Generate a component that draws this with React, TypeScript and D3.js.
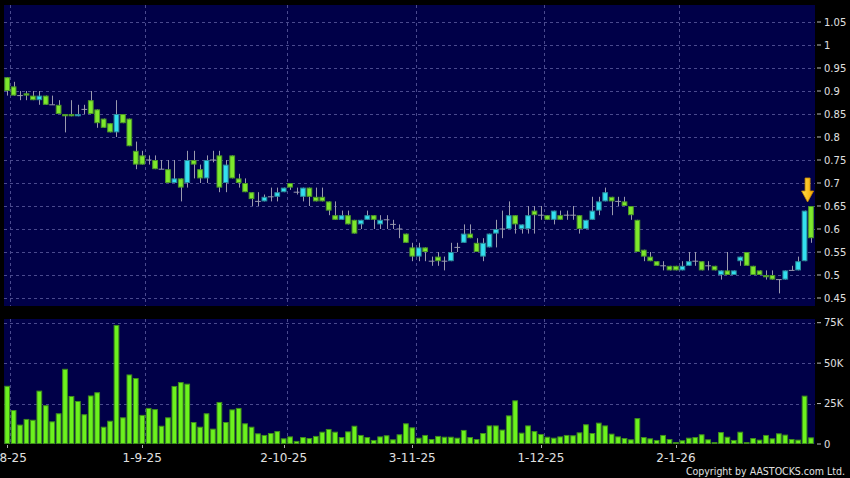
import * as d3 from "d3";

// daily candles, 1-8-25 .. 2-2-26 (HKD)
const opens = [
  0.93, 0.91, 0.89, 0.895, 0.89, 0.88, 0.89, 0.87, 0.87, 0.85,
  0.85, 0.845, 0.86, 0.88, 0.86, 0.84, 0.83, 0.81, 0.85, 0.84,
  0.77, 0.76, 0.75, 0.75, 0.73, 0.73, 0.7, 0.71, 0.7, 0.75,
  0.73, 0.71, 0.75, 0.76, 0.7, 0.76, 0.71, 0.7, 0.68, 0.66,
  0.66, 0.67, 0.67, 0.68, 0.7, 0.68, 0.67, 0.69, 0.67, 0.67,
  0.66, 0.63, 0.62, 0.63, 0.62, 0.61, 0.62, 0.63, 0.61, 0.62,
  0.61, 0.6, 0.59, 0.56, 0.54, 0.56, 0.53, 0.54, 0.53, 0.53,
  0.56, 0.57, 0.59, 0.57, 0.54, 0.56, 0.59, 0.6, 0.6, 0.63,
  0.6, 0.6, 0.64, 0.63, 0.63, 0.62, 0.63, 0.63, 0.63, 0.63,
  0.6, 0.62, 0.64, 0.66, 0.67, 0.66, 0.66, 0.65, 0.62, 0.555,
  0.54, 0.53, 0.52, 0.52, 0.52, 0.51, 0.52, 0.53, 0.53, 0.52,
  0.52, 0.5, 0.51, 0.5, 0.53, 0.55, 0.52, 0.51, 0.5, 0.5,
  0.49, 0.49, 0.51, 0.51, 0.53, 0.65,
];
const highs = [
  0.93, 0.92, 0.9, 0.9, 0.9, 0.9, 0.89, 0.89, 0.88, 0.85,
  0.88, 0.87, 0.87, 0.9, 0.86, 0.84, 0.83, 0.88, 0.85, 0.84,
  0.79, 0.77, 0.76, 0.76, 0.75, 0.75, 0.75, 0.71, 0.77, 0.77,
  0.74, 0.76, 0.77, 0.77, 0.75, 0.76, 0.72, 0.71, 0.68, 0.68,
  0.675, 0.69, 0.69, 0.69, 0.7, 0.69, 0.69, 0.69, 0.69, 0.69,
  0.66, 0.66, 0.64, 0.64, 0.62, 0.62, 0.64, 0.63, 0.63, 0.63,
  0.62, 0.61, 0.59, 0.57, 0.57, 0.56, 0.54, 0.55, 0.54, 0.57,
  0.57, 0.61, 0.61, 0.58, 0.58, 0.59, 0.62, 0.64, 0.66, 0.63,
  0.61, 0.65, 0.65, 0.65, 0.63, 0.64, 0.64, 0.64, 0.65, 0.63,
  0.62, 0.67, 0.67, 0.69, 0.67, 0.67, 0.67, 0.65, 0.62, 0.555,
  0.55, 0.53, 0.53, 0.52, 0.52, 0.53, 0.55, 0.55, 0.53, 0.53,
  0.52, 0.51, 0.55, 0.51, 0.54, 0.55, 0.52, 0.51, 0.51, 0.51,
  0.49, 0.51, 0.52, 0.54, 0.64, 0.65,
];
const lows = [
  0.89, 0.89, 0.88, 0.88, 0.88, 0.87, 0.87, 0.87, 0.85, 0.81,
  0.845, 0.845, 0.85, 0.85, 0.82, 0.82, 0.81, 0.8, 0.83, 0.78,
  0.73, 0.74, 0.74, 0.73, 0.73, 0.7, 0.7, 0.66, 0.69, 0.71,
  0.7, 0.7, 0.745, 0.68, 0.68, 0.71, 0.69, 0.68, 0.65, 0.65,
  0.66, 0.66, 0.66, 0.68, 0.685, 0.675, 0.66, 0.65, 0.66, 0.66,
  0.63, 0.62, 0.62, 0.61, 0.59, 0.6, 0.62, 0.6, 0.6, 0.6,
  0.6, 0.58, 0.57, 0.53, 0.53, 0.53, 0.52, 0.52, 0.51, 0.53,
  0.55, 0.57, 0.58, 0.55, 0.53, 0.56, 0.56, 0.58, 0.6, 0.59,
  0.59, 0.59, 0.59, 0.62, 0.62, 0.61, 0.62, 0.62, 0.62, 0.59,
  0.6, 0.62, 0.63, 0.66, 0.63, 0.65, 0.65, 0.62, 0.55, 0.53,
  0.53, 0.52, 0.51, 0.51, 0.51, 0.51, 0.52, 0.52, 0.51, 0.51,
  0.51, 0.49, 0.5, 0.5, 0.52, 0.52, 0.5, 0.5, 0.49, 0.49,
  0.46, 0.49, 0.51, 0.51, 0.53, 0.57,
];
const closes = [
  0.9, 0.89, 0.89, 0.89, 0.88, 0.89, 0.87, 0.87, 0.85, 0.845,
  0.845, 0.85, 0.86, 0.85, 0.83, 0.82, 0.81, 0.85, 0.83, 0.78,
  0.74, 0.74, 0.75, 0.73, 0.73, 0.7, 0.71, 0.69, 0.75, 0.74,
  0.71, 0.75, 0.75, 0.69, 0.74, 0.71, 0.7, 0.68, 0.665, 0.66,
  0.67, 0.67, 0.68, 0.69, 0.69, 0.68, 0.69, 0.67, 0.66, 0.66,
  0.64, 0.62, 0.63, 0.61, 0.59, 0.62, 0.63, 0.62, 0.62, 0.62,
  0.61, 0.6, 0.57, 0.54, 0.56, 0.55, 0.53, 0.53, 0.53, 0.55,
  0.56, 0.59, 0.58, 0.55, 0.57, 0.59, 0.6, 0.6, 0.63, 0.61,
  0.61, 0.63, 0.63, 0.63, 0.62, 0.64, 0.62, 0.63, 0.63, 0.6,
  0.62, 0.64, 0.66, 0.68, 0.66, 0.66, 0.65, 0.63, 0.55, 0.54,
  0.53, 0.52, 0.52, 0.51, 0.51, 0.52, 0.53, 0.53, 0.51, 0.52,
  0.51, 0.51, 0.5, 0.51, 0.54, 0.52, 0.5, 0.5, 0.495, 0.49,
  0.49, 0.51, 0.51, 0.53, 0.64, 0.58,
];
// volume in thousands of shares
const volumes = [
  36, 21, 12, 15.5, 15, 33, 24, 14, 19, 46.5,
  29.7, 26.6, 18.4, 30, 32, 10.7, 14.4, 73.6, 16.5, 43,
  40.8, 18, 22.3, 21.6, 11.3, 16.5, 35.9, 38.3, 37.3, 13.6,
  10.7, 19, 9.5, 26, 13.6, 21.4, 22.3, 12.8, 10.7, 6.6,
  5.6, 6.8, 8, 3.5, 4.7, 1.9, 4.3, 3.7, 5, 7.6,
  9.3, 7.6, 4.3, 7.8, 11.3, 5.6, 4.3, 2.5, 4.7, 5.4,
  2.9, 6, 12.8, 10.3, 3.9, 5.6, 3.1, 5, 4.5, 4.5,
  3.9, 8.7, 4.3, 3.1, 6.8, 11.5, 11.5, 8.9, 17.7, 27,
  7, 11.5, 8, 6.2, 4.5, 3.9, 4.7, 5.6, 5.4, 7.2,
  12.2, 6.8, 13.2, 11.5, 6.4, 4.7, 3.7, 2.9, 16, 4.3,
  3.5, 2.5, 5.6, 3.1, 1.2, 2.3, 3.9, 4.3, 6, 2.9,
  1.2, 7.4, 4.5, 2.5, 7.6, 1.2, 3.7, 2.7, 5.6, 3.5,
  6.6, 5.8, 3.1, 2.7, 29.9, 4.1,
];

const dateLabels = ["1-8-25", "1-9-25", "2-10-25", "3-11-25", "1-12-25", "2-1-26"];
const dateIndex = [0, 21, 43, 63, 83, 104];
const priceTicks = [0.45, 0.5, 0.55, 0.6, 0.65, 0.7, 0.75, 0.8, 0.85, 0.9, 0.95, 1, 1.05];
const volumeTicks = [0, 25, 50, 75];

const width = 850;
const height = 478;
const plotLeft = 4;
const plotRight = 815;
const priceTop = 5;
const priceBottom = 306;
const volTop = 319;
const volBottom = 444;

const panelFill = "#000048";
const gridColor = "#4a4a8e";
const textColor = "#e0e0e0";
const upFill = "#33e0f0";
const upStroke = "#2a8c9c";
const downFill = "#7ee82c";
const downStroke = "#4c9a28";
const wickColor = "#9a9aae";
const font = "DejaVu Sans, Verdana, sans-serif";

const App = () => {
  const idx = d3.range(closes.length);
  const x = d3
    .scaleBand<number>()
    .domain(idx)
    .range([3.95, 814.2])
    .paddingInner(0.11)
    .paddingOuter(0.055);
  const bw = x.bandwidth();
  const cx = (i: number) => (x(i) as number) + bw / 2;
  const gridX = (i: number) => (x(i) as number) + x.step() - (x.step() - bw) / 2;

  const yPrice = d3.scaleLinear().domain([0.45, 1.05]).range([298, 22]);
  const yVol = d3.scaleLinear().domain([0, 75]).range([volBottom, 322.7]);

  const last = closes.length - 1;
  const arrowX = cx(last) - 3.4;
  const arrowTip = yPrice(highs[last]) - 4;

  return (
    <div style={{ position: "absolute", left: 0, top: 0 }}>
      <svg width={width} height={height} viewBox={`0 0 ${width} ${height}`} style={{ display: "block" }}>
        <defs>
          <linearGradient id="arrowGrad" x1="0" x2="1" y1="0" y2="0">
            <stop offset="0" stopColor="#ffe14a" />
            <stop offset="1" stopColor="#f5a400" />
          </linearGradient>
        </defs>
        <rect x={0} y={0} width={width} height={height} fill="#000" />
        <rect x={plotLeft} y={priceTop} width={plotRight - plotLeft} height={priceBottom - priceTop} fill={panelFill} />
        <rect x={plotLeft} y={volTop} width={plotRight - plotLeft} height={volBottom - volTop} fill={panelFill} />

        {/* grid */}
        <g stroke={gridColor} strokeWidth={1} strokeDasharray="3,3">
          {priceTicks.map((t) => (
            <line key={`pg${t}`} x1={plotLeft} x2={plotRight} y1={Math.round(yPrice(t)) + 0.5} y2={Math.round(yPrice(t)) + 0.5} />
          ))}
          {volumeTicks.slice(1).map((t) => (
            <line key={`vg${t}`} x1={plotLeft} x2={plotRight} y1={Math.round(yVol(t)) + 0.5} y2={Math.round(yVol(t)) + 0.5} />
          ))}
          {dateIndex.map((k) => (
            <g key={`dg${k}`}>
              <line x1={Math.round(gridX(k)) + 0.5} x2={Math.round(gridX(k)) + 0.5} y1={priceTop} y2={priceBottom} />
              <line x1={Math.round(gridX(k)) + 0.5} x2={Math.round(gridX(k)) + 0.5} y1={volTop} y2={volBottom} />
            </g>
          ))}
        </g>

        {/* candles */}
        <g>
          {idx.map((i) => {
            const o = opens[i];
            const c = closes[i];
            const up = c > o;
            const top = yPrice(Math.max(o, c));
            const bot = yPrice(Math.min(o, c));
            const xl = x(i) as number;
            return (
              <g key={`c${i}`}>
                <line x1={Math.round(cx(i)) + 0.5} x2={Math.round(cx(i)) + 0.5} y1={yPrice(highs[i])} y2={yPrice(lows[i])} stroke={wickColor} strokeWidth={1} />
                {o === c ? (
                  <line x1={xl} x2={xl + bw} y1={top} y2={top} stroke={wickColor} strokeWidth={1} />
                ) : (
                  <rect
                    x={xl + 0.5}
                    y={top + 0.5}
                    width={bw - 1}
                    height={Math.max(1, bot - top - 1)}
                    fill={up ? upFill : downFill}
                    stroke={up ? upStroke : downStroke}
                    strokeWidth={1}
                  />
                )}
              </g>
            );
          })}
        </g>

        {/* volume */}
        <g>
          {idx.map((i) => (
            <rect
              key={`v${i}`}
              x={(x(i) as number) + 0.5}
              y={yVol(volumes[i]) + 0.5}
              width={bw - 1}
              height={Math.max(0, volBottom - yVol(volumes[i]) - 1)}
              fill="#6cf21e"
              stroke="#3f8e1c"
              strokeWidth={1}
            />
          ))}
        </g>

        {/* arrow marker on latest bar */}
        <path
          d={`M${arrowX - 2.5},${arrowTip - 24} h5 v13 h3.5 l-6,11 l-6,-11 h3.5 z`}
          fill="url(#arrowGrad)"
          stroke="#c98a00"
          strokeWidth={0.8}
        />

        {/* right axis */}
        <g fontFamily={font} fontSize={10} fill={textColor}>
          {priceTicks.map((t) => (
            <g key={`pt${t}`}>
              <line x1={817} x2={821} y1={yPrice(t)} y2={yPrice(t)} stroke="#bbb" />
              <text x={824} y={yPrice(t)} dy="0.36em">
                {String(+t.toFixed(2))}
              </text>
            </g>
          ))}
          {volumeTicks.map((t) => (
            <g key={`vt${t}`}>
              <line x1={817} x2={821} y1={yVol(t)} y2={yVol(t)} stroke="#bbb" />
              <text x={824} y={yVol(t)} dy="0.36em">
                {t === 0 ? "0" : `${t}K`}
              </text>
            </g>
          ))}
        </g>

        {/* bottom axis */}
        <g fontFamily={font} fontSize={12} fill={textColor} textAnchor="middle">
          {dateIndex.map((k, j) => (
            <g key={`dt${k}`}>
              <line x1={Math.round(cx(k)) + 0.5} x2={Math.round(cx(k)) + 0.5} y1={445} y2={448} stroke="#aaa" />
              <text x={cx(k)} y={462}>
                {dateLabels[j]}
              </text>
            </g>
          ))}
        </g>

        <text
          x={845}
          y={475}
          textAnchor="end"
          fontFamily="DejaVu Sans Condensed, DejaVu Sans, sans-serif"
          fontStretch="condensed"
          fontSize={10.5}
          fill={textColor}
        >
          Copyright by AASTOCKS.com Ltd.
        </text>
      </svg>
    </div>
  );
};

export default App;
